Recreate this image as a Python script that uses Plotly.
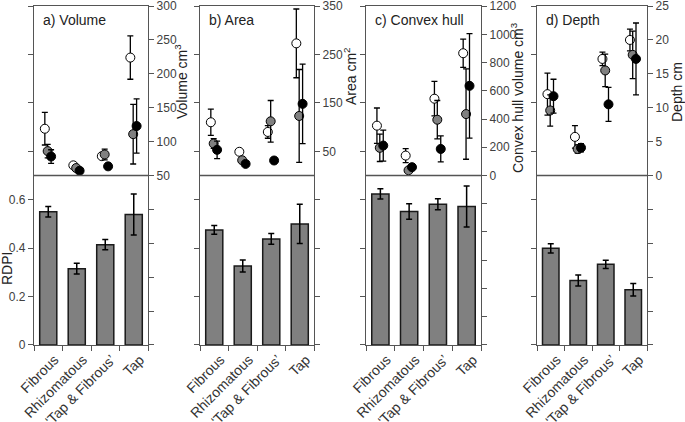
import plotly.graph_objects as go

# ---------------- data ----------------
categories = ["Fibrous", "Rhizomatous", "\u2018Tap & Fibrous\u2019", "Tap"]
panel_titles = ["a) Volume", "b) Area", "c) Convex hull", "d) Depth"]
trait_titles = ["Volume cm<sup>3</sup>", "Area cm<sup>2</sup>",
                "Convex hull volume cm<sup>3</sup>", "Depth cm"]

# RDPI bars (mean, error) per panel
rdpi_volume = [0.550, 0.315, 0.414, 0.539]
rdpi_volume_err = [0.022, 0.022, 0.021, 0.085]
rdpi_area = [0.475, 0.326, 0.438, 0.500]
rdpi_area_err = [0.018, 0.025, 0.022, 0.081]
rdpi_hull = [0.624, 0.551, 0.581, 0.572]
rdpi_hull_err = [0.021, 0.032, 0.023, 0.085]
rdpi_depth = [0.399, 0.266, 0.333, 0.228]
rdpi_depth_err = [0.019, 0.023, 0.017, 0.026]

# trait values: white, grey, black series
volume_white = [119, 65, 78.5, 224]
volume_white_err = [24, 3, 3, 32]
volume_grey = [86, 61, 81, 111]
volume_grey_err = [10, 3, 8, 44]
volume_black = [78, 57, 63.5, 123]
volume_black_err = [10, 3, 3, 40]

area_white = [110, 49, 90, 273]
area_white_err = [27, 4, 13, 71]
area_grey = [66, 31.5, 112, 123]
area_grey_err = [10, 4, 43, 96]
area_black = [53, 24, 31, 148]
area_black_err = [18, 3, 4, 82]

hull_white = [353, 141, 544, 866]
hull_white_err = [125, 50, 122, 100]
hull_grey = [196, 37, 395, 435]
hull_grey_err = [97, 10, 136, 320]
hull_black = [212, 59, 188, 635]
hull_black_err = [110, 12, 92, 370]

depth_white = [12.0, 5.7, 17.2, 20.0]
depth_white_err = [3.1, 1.65, 1.0, 1.6]
depth_grey = [9.6, 3.9, 15.5, 17.8]
depth_grey_err = [2.3, 0.6, 2.4, 3.5]
depth_black = [11.7, 4.1, 10.5, 17.2]
depth_black_err = [2.5, 0.6, 2.5, 5.3]

# axis setups for the trait (right) axes
trait_ranges = [[-200, 300], [-350, 350], [-1200, 1200], [-25, 25]]
trait_steps = [50, 100, 200, 5]
trait_label_min = [50, 50, 0, 0]
rdpi_label_ticks = [0, 0.2, 0.4, 0.6]
rdpi_label_text = ["0", "0.2", "0.4", "0.6"]
rdpi_step = 0.2

rdpi_sets = [(rdpi_volume, rdpi_volume_err), (rdpi_area, rdpi_area_err),
             (rdpi_hull, rdpi_hull_err), (rdpi_depth, rdpi_depth_err)]
trait_sets = [
    [(volume_white, volume_white_err), (volume_grey, volume_grey_err), (volume_black, volume_black_err)],
    [(area_white, area_white_err), (area_grey, area_grey_err), (area_black, area_black_err)],
    [(hull_white, hull_white_err), (hull_grey, hull_grey_err), (hull_black, hull_black_err)],
    [(depth_white, depth_white_err), (depth_grey, depth_grey_err), (depth_black, depth_black_err)],
]

# ---------------- layout geometry ----------------
W, H = 685, 422
panel_px = [(34, 148), (200, 314), (366, 481), (537, 647)]
top_px, bot_px = 6, 345
ydom = [1 - bot_px / H, 1 - top_px / H]

series_fill = ["white", "#808080", "black"]
series_offset = [-0.12, -0.02, 0.10]
label_shift = 0.22  # rotated labels end slightly right of the bar centre

AXC = "#555555"
TXT = "#404040"
FONT = "Liberation Sans, Arial, sans-serif"

fig = go.Figure()
layout = dict(width=W, height=H, margin=dict(l=0, r=0, t=0, b=0, autoexpand=False),
              template="none",
              paper_bgcolor="white", plot_bgcolor="white", showlegend=False,
              font=dict(family=FONT, size=12, color=TXT))
shapes = []
annotations = []

xcat = list(range(len(categories)))
for k in range(4):
    i = k + 1
    xa = "x" if i == 1 else f"x{i}"
    ya_left = "y" if i == 1 else f"y{i}"
    ya_right = f"y{i + 4}"
    vals, errs = rdpi_sets[k]
    fig.add_trace(go.Bar(
        x=xcat, y=vals, width=0.6, xaxis=xa, yaxis=ya_left,
        marker=dict(color="#808080", line=dict(color="#1a1a1a", width=1.5)),
        error_y=dict(type="data", array=errs, color="black", thickness=1.5, width=3),
    ))
    for s in range(3):
        v, e = trait_sets[k][s]
        fig.add_trace(go.Scatter(
            x=[c + series_offset[s] for c in xcat], y=v, mode="markers",
            xaxis=xa, yaxis=ya_right,
            marker=dict(size=9, color=series_fill[s], line=dict(color="black", width=1)),
            error_y=dict(type="data", array=e, color="black", thickness=1.3, width=3),
        ))

    x0, x1 = panel_px[k]
    xdom = [x0 / W, x1 / W]
    layout[f"xaxis{i}"] = dict(
        domain=xdom, range=[-0.5, 3.5], anchor=ya_left, automargin=False,
        tickvals=[c + label_shift for c in xcat], ticktext=categories,
        tickangle=-45, ticks="", ticklabeloverflow="allow",
        tickfont=dict(size=14, color="#333333"),
        showline=True, linecolor=AXC, linewidth=1.3, mirror=True,
        showgrid=False, zeroline=False,
        minor=dict(tick0=-0.5, dtick=1, ticks="outside", ticklen=5,
                   tickcolor=AXC, tickwidth=1, showgrid=False),
    )
    layout[f"yaxis{i}"] = dict(
        domain=ydom, range=[-0.0005, 1.4005], anchor=xa, automargin=False,
        tickvals=rdpi_label_ticks, ticktext=rdpi_label_text,
        showticklabels=(k == 0), ticklabeloverflow="allow",
        ticks="outside", ticklen=5, tickcolor=AXC,
        tickfont=dict(size=12, color=TXT),
        minor=dict(tick0=0, dtick=rdpi_step, ticks="outside", ticklen=5,
                   tickcolor=AXC, tickwidth=1, showgrid=False),
        showline=True, linecolor=AXC, linewidth=1.3,
        showgrid=False, zeroline=False,
    )
    lo, hi = trait_ranges[k]
    step = trait_steps[k]
    eps = step * 0.002
    tv = [t for t in range(lo, hi + 1, step) if t >= trait_label_min[k]]
    layout[f"yaxis{i + 4}"] = dict(
        range=[lo - eps, hi + eps], overlaying=ya_left, side="right", anchor=xa,
        automargin=False, ticklabeloverflow="allow",
        tickvals=tv, ticktext=[str(t) for t in tv],
        ticks="outside", ticklen=5, tickcolor=AXC,
        tickfont=dict(size=12, color=TXT),
        minor=dict(tick0=lo, dtick=step, ticks="outside", ticklen=5,
                   tickcolor=AXC, tickwidth=1, showgrid=False),
        showline=True, linecolor=AXC, linewidth=1.3,
        showgrid=False, zeroline=False,
    )
    # divider between upper (trait) and lower (RDPI) sections
    shapes.append(dict(type="line", xref=f"{xa} domain", yref=ya_left,
                       x0=0, x1=1, y0=0.7, y1=0.7,
                       line=dict(color=AXC, width=1.3)))
    annotations.append(dict(text=panel_titles[k], xref="paper", yref="paper",
                            x=(x0 + 7) / W, y=1 - 20 / H, xanchor="left",
                            yanchor="middle", showarrow=False,
                            font=dict(size=14, color="#222222")))

title_pos = [(181, 82), (350, 76), (517, 98), (677, 92)]
for k in range(4):
    px, py = title_pos[k]
    annotations.append(dict(text=trait_titles[k], xref="paper", yref="paper",
                            x=px / W, y=1 - py / H, xanchor="center",
                            yanchor="middle", textangle=-90, showarrow=False,
                            font=dict(size=14, color="#222222")))
annotations.append(dict(text="RDPI", xref="paper", yref="paper",
                        x=7 / W, y=1 - 269 / H, xanchor="center",
                        yanchor="middle", textangle=-90, showarrow=False,
                        font=dict(size=14, color="#222222")))

layout["shapes"] = shapes
layout["annotations"] = annotations
fig.update_layout(**layout)
fig.write_html("out.html", config={"displayModeBar": False},
               post_script="document.body.style.margin='0';document.body.style.padding='0';document.body.style.overflow='hidden';")
